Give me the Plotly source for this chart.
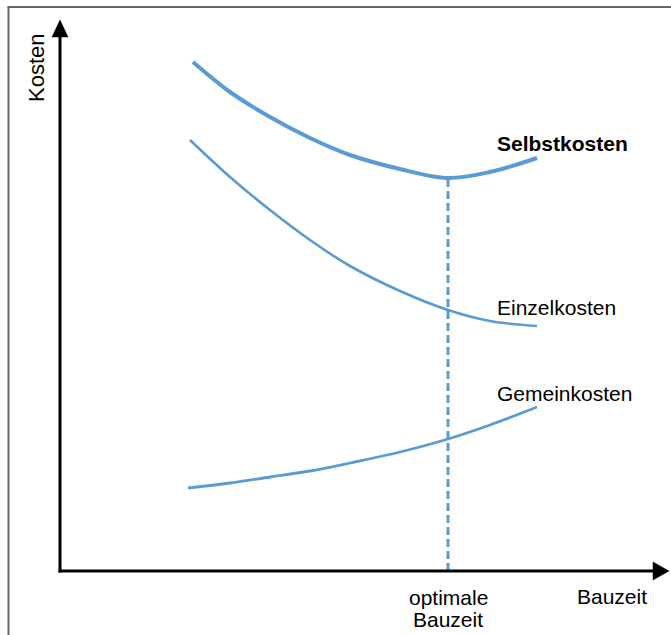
import plotly.graph_objects as go

# Bauzeit / Kosten in drawing units (origin at the axis corner)
bauzeit = [130, 170, 210, 250, 290, 340, 388, 430, 477]

bauzeit_selbst = [133] + bauzeit[1:]
selbstkosten = [509, 479, 454, 433, 416, 402, 393, 399, 413]

bauzeit_einzel = bauzeit
einzelkosten = [431, 394, 361, 331, 305, 280, 261, 250, 245]

bauzeit_gemein = [128] + bauzeit[1:]
gemeinkosten = [83, 88, 94, 100, 108, 119, 132, 146, 164]

optimale_bauzeit = 388
minimale_selbstkosten = 393

series_labels = ["Selbstkosten", "Einzelkosten", "Gemeinkosten"]
axis_labels = ["Kosten", "Bauzeit"]
optimum_label = ["optimale", "Bauzeit"]

BLUE = "#5B9BD5"
FONT = "Liberation Sans, Arial, sans-serif"
FS = 21

fig = go.Figure()

fig.add_trace(go.Scatter(x=bauzeit_selbst, y=selbstkosten, mode="lines",
                         line=dict(color=BLUE, width=4, shape="spline"),
                         hoverinfo="skip"))
fig.add_trace(go.Scatter(x=bauzeit_einzel, y=einzelkosten, mode="lines",
                         line=dict(color=BLUE, width=2.6, shape="spline"),
                         hoverinfo="skip"))
fig.add_trace(go.Scatter(x=bauzeit_gemein, y=gemeinkosten, mode="lines",
                         line=dict(color=BLUE, width=2.8, shape="spline"),
                         hoverinfo="skip"))
# dashed marker of the optimum
fig.add_trace(go.Scatter(x=[optimale_bauzeit, optimale_bauzeit],
                         y=[0, minimale_selbstkosten], mode="lines",
                         line=dict(color=BLUE, width=3, dash="8px,4px"),
                         hoverinfo="skip"))

shapes = [
    # frame (left and top edges)
    dict(type="line", xref="paper", yref="paper", x0=8.5 / 671, x1=8.5 / 671,
         y0=-0.05, y1=1 - 7 / 635, line=dict(color="#666666", width=2)),
    dict(type="line", xref="paper", yref="paper", x0=7.5 / 671, x1=1.05,
         y0=1 - 7 / 635, y1=1 - 7 / 635, line=dict(color="#666666", width=2)),
    # y axis with arrow
    dict(type="line", xref="x", yref="y", x0=0, x1=0, y0=-1.5, y1=536,
         line=dict(color="black", width=3)),
    dict(type="path", xref="x", yref="y", path="M -8,534 L 8,534 L 0,551 Z",
         fillcolor="black", line=dict(color="black", width=0.5)),
    # x axis with arrow
    dict(type="line", xref="x", yref="y", x0=-1.5, x1=595, y0=0, y1=0,
         line=dict(color="black", width=3)),
    dict(type="path", xref="x", yref="y", path="M 593,9 L 593,-9 L 609,0 Z",
         fillcolor="black", line=dict(color="black", width=0.5)),
]

txt = dict(showarrow=False, font=dict(size=FS, color="black"))
annotations = [
    dict(x=435, y=428, text="<b>" + series_labels[0] + "</b>", xanchor="left",
         yanchor="middle", **txt),
    dict(x=435, y=264, text=series_labels[1], xanchor="left",
         yanchor="middle", **txt),
    dict(x=435, y=178, text=series_labels[2], xanchor="left",
         yanchor="middle", **txt),
    dict(x=-24, y=503, text=axis_labels[0], textangle=-90, xanchor="center",
         yanchor="middle", showarrow=False, font=dict(size=22, color="black")),
    dict(x=552, y=-25, text=axis_labels[1], xanchor="center",
         yanchor="middle", **txt),
    dict(x=optimale_bauzeit, y=-26, text=optimum_label[0], xanchor="center",
         yanchor="middle", **txt),
    dict(x=optimale_bauzeit, y=-48, text=optimum_label[1], xanchor="center",
         yanchor="middle", **txt),
]

fig.update_layout(
    width=671, height=635,
    margin=dict(l=0, r=0, t=0, b=0),
    paper_bgcolor="white", plot_bgcolor="white",
    showlegend=False,
    font=dict(family=FONT),
    xaxis=dict(range=[-60, 611], visible=False, fixedrange=True),
    yaxis=dict(range=[-64, 571], visible=False, fixedrange=True),
    shapes=shapes,
    annotations=annotations,
)

fig.write_html("out.html", config={"displayModeBar": False})
